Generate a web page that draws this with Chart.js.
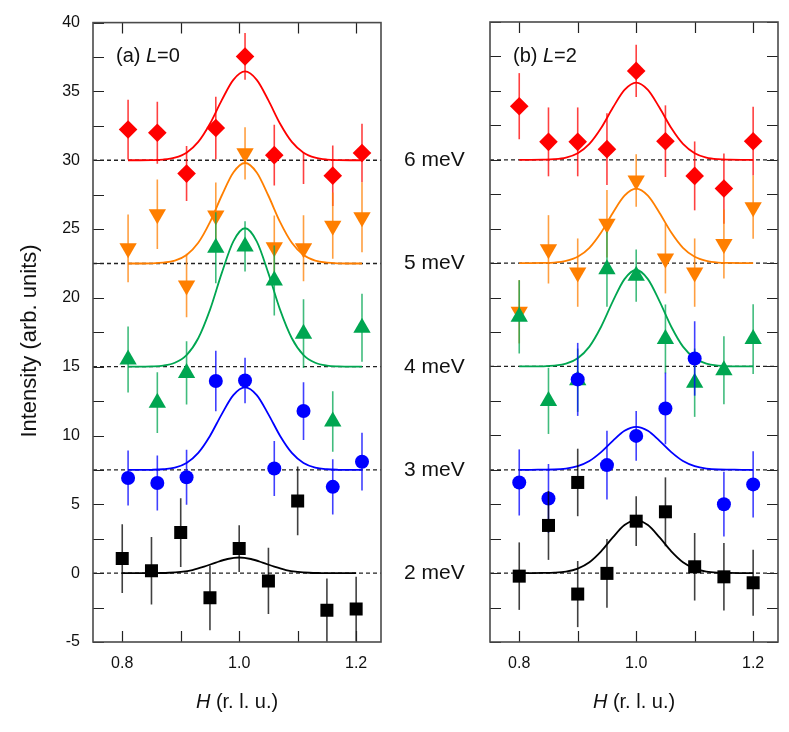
<!DOCTYPE html>
<html><head><meta charset="utf-8">
<script src="https://cdn.jsdelivr.net/npm/chart.js@4.4.1/dist/chart.umd.min.js"></script>
<style>
html,body{margin:0;padding:0;background:#fff;}
#wrap{position:relative;width:789px;height:732px;overflow:hidden;}
canvas{position:absolute;top:0;}
#cL{left:0;} #cR{left:480px;}
</style></head><body>
<div id="wrap"><canvas id="cL" width="480" height="732"></canvas><canvas id="cR" width="309" height="732"></canvas></div>
<script>
// ---------- labels ----------
const energyLabels = ['2 meV', '3 meV', '4 meV', '5 meV', '6 meV'];
const baselines = [0, 7.5, 15, 22.5, 30];
const xRange = [0.75, 1.2425];
const yRange = [-5, 40];

// ---------- panel (a) L=0 ----------
const aX = [0.81, 0.86, 0.91, 0.96, 1.01, 1.06, 1.11, 1.16, 1.21];
const aX2 = [0.80, 0.85, 0.90, 0.95, 1.00, 1.05, 1.10, 1.15, 1.20];
const a6 = [32.23, 32.0, 29.03, 32.34, 37.54, 30.37, 29.43, 28.88, 30.53];
const a6err = [2.17, 2.25, 2.0, 2.27, 1.7, 2.2, 1.15, 2.2, 2.13];
const a6shown = [1, 1, 1, 1, 1, 1, 0, 1, 1];
const a5 = [23.6, 26.08, 20.9, 25.98, 30.5, 23.68, 23.6, 25.25, 25.86];
const a5err = [2.46, 2.52, 2.3, 2.4, 1.9, 2.3, 2.4, 2.4, 2.54];
const a4 = [15.52, 12.39, 14.55, 23.64, 23.74, 21.26, 17.4, 11.02, 17.83];
const a4err = [2.4, 2.2, 2.3, 2.58, 1.83, 2.54, 2.5, 2.2, 2.47];
const a3 = [6.92, 6.55, 6.97, 13.96, 14.0, 7.6, 11.78, 6.27, 8.1];
const a3err = [2.0, 2.0, 2.0, 2.2, 1.65, 2.0, 2.1, 2.0, 2.1];
const a2 = [1.06, 0.17, 2.95, -1.79, 1.79, -0.56, 5.25, -2.69, -2.61];
const a2err = [2.5, 2.45, 2.5, 2.35, 1.7, 2.4, 2.5, 2.3, 2.35];

// ---------- panel (b) L=2 ----------
const bX = [0.80, 0.85, 0.90, 0.95, 1.00, 1.05, 1.10, 1.15, 1.20];
const bX2 = [0.80, 0.85, 0.90, 0.90, 0.95, 1.00, 1.05, 1.10, 1.15, 1.20];
const b6 = [33.89, 31.3, 31.3, 30.77, 36.45, 31.35, 28.83, 27.91, 31.35];
const b6err = [2.4, 2.5, 2.5, 2.6, 1.9, 2.6, 2.5, 2.55, 2.5];
const b5 = [18.97, 23.5, 21.81, 25.36, 28.5, 22.84, 21.81, 23.89, 26.56];
const b5err = [2.3, 2.48, 2.48, 2.45, 1.91, 2.54, 2.48, 2.5, 2.3];
const b4 = [18.6, 12.5, 14.0, 22.05, 21.59, 17.0, 13.82, 14.73, 16.99];
const b4err = [2.66, 2.4, 2.3, 2.72, 1.9, 2.5, 2.48, 2.47, 2.53];
const b3 = [6.58, 5.42, 14.06, 7.84, 9.96, 11.95, 15.58, 5.0, 6.44];
const b3err = [2.4, 2.5, 2.65, 2.5, 1.8, 2.6, 2.7, 2.35, 2.4];
const b2 = [-0.22, 3.46, 6.58, -1.52, -0.02, 3.77, 4.45, 0.46, -0.27, -0.7];
const b2err = [2.45, 2.5, 2.45, 2.4, 2.5, 1.8, 2.5, 2.45, 2.45, 2.4];

// ---------- fitted curves ----------
const fitXa = [0.81,0.83,0.85,0.87,0.89,0.91,0.93,0.95,0.97,0.99,1.01,1.03,1.05,1.07,1.09,1.11,1.13,1.15,1.17,1.19,1.21];
const fitXb = [0.80,0.82,0.84,0.86,0.88,0.90,0.92,0.94,0.96,0.98,1.00,1.02,1.04,1.06,1.08,1.10,1.12,1.14,1.16,1.18,1.20];
const fitA6 = [30,30,30.01,30.05,30.19,30.55,31.33,32.65,34.35,35.84,36.45,35.84,34.35,32.65,31.33,30.55,30.19,30.05,30.01,30,30];
const fitA5 = [22.5,22.5,22.51,22.56,22.71,23.12,24.0,25.5,27.42,29.11,29.8,29.11,27.42,25.5,24.0,23.12,22.71,22.56,22.51,22.5,22.5];
const fitA4 = [15,15,15.02,15.08,15.29,15.85,17.07,19.13,21.78,24.11,25.06,24.11,21.78,19.13,17.07,15.85,15.29,15.08,15.02,15,15];
const fitA3 = [7.5,7.5,7.51,7.55,7.67,8.01,8.74,9.97,11.54,12.94,13.5,12.94,11.54,9.97,8.74,8.01,7.67,7.55,7.51,7.5,7.5];
const fitA2 = [0,0,0,0.01,0.03,0.10,0.23,0.47,0.77,1.03,1.14,1.03,0.77,0.47,0.23,0.10,0.03,0.01,0,0,0];
const fitB6 = [30,30,30.01,30.04,30.16,30.48,31.15,32.30,33.77,35.07,35.6,35.07,33.77,32.30,31.15,30.48,30.16,30.04,30.01,30,30];
const fitB5 = [22.5,22.5,22.51,22.54,22.66,22.96,23.61,24.72,26.14,27.39,27.9,27.39,26.14,24.72,23.61,22.96,22.66,22.54,22.51,22.5,22.5];
const fitB4 = [15,15,15.01,15.06,15.2,15.6,16.44,17.88,19.72,21.34,22.0,21.34,19.72,17.88,16.44,15.6,15.2,15.06,15.01,15,15];
const fitB3 = [7.5,7.5,7.51,7.52,7.59,7.77,8.14,8.78,9.60,10.33,10.62,10.33,9.60,8.78,8.14,7.77,7.59,7.52,7.51,7.5,7.5];
const fitB2 = [0,0,0.01,0.03,0.11,0.33,0.79,1.58,2.59,3.49,3.85,3.49,2.59,1.58,0.79,0.33,0.11,0.03,0.01,0,0];

// ---------- style ----------
const C = { red: '#ff0000', orange: '#ff7f00', green: '#00a651', blue: '#0000ff', black: '#000000' };
const FONT = "'Liberation Sans', Arial, Helvetica, sans-serif";
Chart.defaults.font.family = FONT;
Chart.defaults.color = '#111';

const pts = (xs, ys) => xs.map((x, i) => ({ x: x, y: ys[i] }));

function markerSet(xs, ys, errs, color, style, radius, order, rotation, shown) {
  return {
    data: pts(xs, ys), errors: errs, errColor: color,
    pointStyle: style, pointRadius: shown ? shown.map(s => s ? radius : 0) : radius,
    pointRotation: rotation || 0,
    backgroundColor: color, borderColor: color, borderWidth: 0,
    showLine: false, order: order
  };
}
function curveSet(xs, ys, color) {
  return { data: pts(xs, ys), showLine: true, borderColor: color, borderWidth: 1.8,
    pointRadius: 0, cubicInterpolationMode: 'monotone', fill: false, order: 20 };
}
function baseSets() {
  return baselines.map(b => ({ data: pts(xRange, [b, b]), showLine: true, borderColor: '#222',
    borderWidth: 1.3, borderDash: [4, 3], pointRadius: 0, fill: false, order: 30 }));
}

// ---------- plugins ----------
const errorBars = {
  id: 'errorBars',
  beforeDatasetDraw(chart, args) {
    const ds = chart.data.datasets[args.index];
    if (!ds.errors) return;
    const { ctx, chartArea: ca } = chart;
    const x = chart.scales.x, y = chart.scales.y;
    ctx.save();
    ctx.beginPath(); ctx.rect(ca.left, ca.top, ca.right - ca.left, ca.bottom - ca.top); ctx.clip();
    ctx.strokeStyle = ds.errColor; ctx.globalAlpha = 0.75; ctx.lineWidth = 1.6;
    ds.data.forEach((p, i) => {
      const e = ds.errors[i];
      const px = x.getPixelForValue(p.x);
      ctx.beginPath();
      ctx.moveTo(px, y.getPixelForValue(p.y - e));
      ctx.lineTo(px, y.getPixelForValue(p.y + e));
      ctx.stroke();
    });
    ctx.restore();
  }
};

function richText(ctx, parts, x, y, align, size) {
  let w = 0;
  parts.forEach(p => { ctx.font = (p[1] ? 'italic ' : '') + size + 'px ' + FONT; w += ctx.measureText(p[0]).width; });
  let cx = align === 'center' ? x - w / 2 : x;
  ctx.textAlign = 'left';
  parts.forEach(p => { ctx.font = (p[1] ? 'italic ' : '') + size + 'px ' + FONT; ctx.fillText(p[0], cx, y); cx += ctx.measureText(p[0]).width; });
}

function framePlugin(opts) {
  return {
    id: 'frame',
    afterDatasetsDraw(chart) {
      const { ctx, chartArea: ca } = chart;
      const x = chart.scales.x, y = chart.scales.y;
      const L = 11;
      ctx.save();
      ctx.strokeStyle = '#222'; ctx.lineWidth = 1.2;
      ctx.beginPath();
      x.ticks.forEach(t => {
        const px = Math.round(x.getPixelForValue(t.value)) + 0.5;
        ctx.moveTo(px, ca.bottom); ctx.lineTo(px, ca.bottom - L);
        ctx.moveTo(px, ca.top); ctx.lineTo(px, ca.top + L);
      });
      y.ticks.forEach(t => {
        const py = Math.round(y.getPixelForValue(t.value)) + 0.5;
        ctx.moveTo(ca.left, py); ctx.lineTo(ca.left + L, py);
        if (opts.rightTicks) { ctx.moveTo(ca.right, py); ctx.lineTo(ca.right - L, py); }
      });
      ctx.stroke();
      ctx.strokeStyle = '#4a4a4a'; ctx.lineWidth = 1.6;
      ctx.strokeRect(ca.left, ca.top, ca.right - ca.left, ca.bottom - ca.top);
      ctx.restore();
    },
    afterDraw(chart) {
      const { ctx, chartArea: ca } = chart;
      const y = chart.scales.y;
      ctx.save();
      ctx.fillStyle = '#111';
      ctx.textBaseline = 'alphabetic';
      richText(ctx, opts.panel, ca.left + 23, 62, 'left', 20);
      richText(ctx, [['H', true], [' (r. l. u.)', false]], (ca.left + ca.right) / 2, 708, 'center', 20);
      if (opts.energy) {
        ctx.font = '21px ' + FONT; ctx.textAlign = 'left';
        baselines.forEach((b, i) => ctx.fillText(energyLabels[i], 404, y.getPixelForValue(b) + 6));
      }
      if (opts.ytitle) {
        ctx.translate(36, 341);
        ctx.rotate(-Math.PI / 2);
        ctx.font = '22px ' + FONT; ctx.textAlign = 'center';
        ctx.fillText('Intensity (arb. units)', 0, 0);
      }
      ctx.restore();
    }
  };
}

function makeOptions(left) {
  return {
    responsive: false, animation: false, devicePixelRatio: 1,
    layout: { padding: left ? { top: 22, right: 99, left: 0, bottom: 0 } : { top: 22, right: 11, left: 0, bottom: 0 } },
    plugins: { legend: { display: false }, tooltip: { enabled: false } },
    scales: {
      x: {
        type: 'linear', min: xRange[0], max: xRange[1],
        grid: { display: false, drawTicks: false }, border: { display: false },
        ticks: { stepSize: 0.1, includeBounds: false, autoSkip: false, maxRotation: 0, padding: 12,
          font: { size: 16 }, color: '#111',
          callback: v => (Math.round(v * 10) % 2 === 0 ? v.toFixed(1) : '') },
        afterFit: s => { s.height = 90; }
      },
      y: {
        type: 'linear', min: yRange[0], max: yRange[1],
        grid: { display: false, drawTicks: false }, border: { display: false },
        ticks: { display: left, stepSize: 2.5, includeBounds: false, autoSkip: false, padding: 13,
          font: { size: 16 }, color: '#111',
          callback: v => (Math.abs(v % 5) < 1e-9 ? String(v) : '') },
        afterFit: s => { s.width = left ? 93 : 10; }
      }
    }
  };
}

new Chart(document.getElementById('cL'), {
  type: 'scatter',
  data: { datasets: [
    ...baseSets(),
    curveSet(fitXa, fitA6, C.red), curveSet(fitXa, fitA5, C.orange), curveSet(fitXa, fitA4, C.green),
    curveSet(fitXa, fitA3, C.blue), curveSet(fitXb, fitA2, C.black),
    markerSet(aX, a6, a6err, C.red, 'rectRot', 9.3, 5, 0, a6shown),
    markerSet(aX, a5, a5err, C.orange, 'triangle', 10, 4, 180),
    markerSet(aX, a4, a4err, C.green, 'triangle', 10, 3, 0),
    markerSet(aX, a3, a3err, C.blue, 'circle', 7, 2, 0),
    markerSet(aX2, a2, a2err, C.black, 'rect', 9.2, 1, 0)
  ] },
  options: makeOptions(true),
  plugins: [errorBars, framePlugin({ panel: [['(a) ', false], ['L', true], ['=0', false]], energy: true, ytitle: true, rightTicks: false })]
});

new Chart(document.getElementById('cR'), {
  type: 'scatter',
  data: { datasets: [
    ...baseSets(),
    curveSet(fitXb, fitB6, C.red), curveSet(fitXb, fitB5, C.orange), curveSet(fitXb, fitB4, C.green),
    curveSet(fitXb, fitB3, C.blue), curveSet(fitXb, fitB2, C.black),
    markerSet(bX, b6, b6err, C.red, 'rectRot', 9.3, 5, 0),
    markerSet(bX, b5, b5err, C.orange, 'triangle', 10, 4, 180),
    markerSet(bX, b4, b4err, C.green, 'triangle', 10, 3, 0),
    markerSet(bX, b3, b3err, C.blue, 'circle', 7, 2, 0),
    markerSet(bX2, b2, b2err, C.black, 'rect', 9.2, 1, 0)
  ] },
  options: makeOptions(false),
  plugins: [errorBars, framePlugin({ panel: [['(b) ', false], ['L', true], ['=2', false]], energy: false, ytitle: false, rightTicks: true })]
});
</script>
</body></html>
